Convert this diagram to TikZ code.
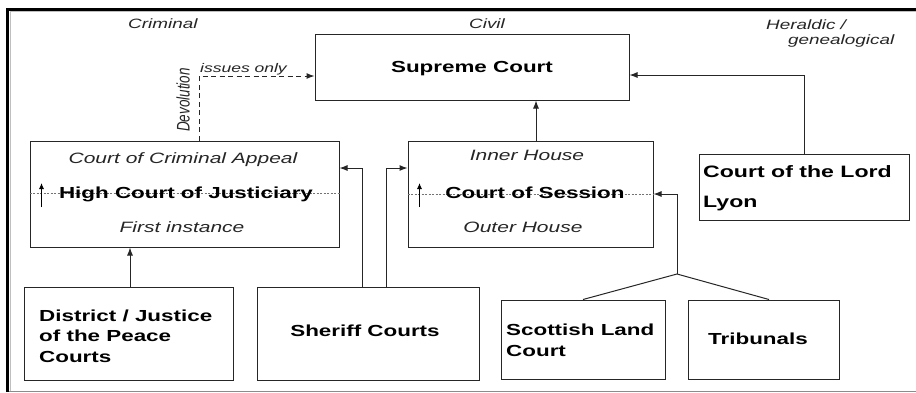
\documentclass[tikz,border=0pt]{standalone}
\usepackage{fontspec}
\setmainfont{Liberation Sans}[FakeStretch=1.4]
\usetikzlibrary{arrows.meta}
\begin{document}
\begin{tikzpicture}[x=1pt,y=-1pt,
  box/.style={draw=black!85,line width=1pt,rectangle,inner sep=0pt,fill=white},
  arr/.style={draw=black!85,line width=1pt,-{Latex[length=8pt,width=6pt]}},
  darr/.style={arr,dash pattern=on 5pt off 3.5pt},
  plain/.style={draw=black!85,line width=1pt},
  midline/.style={draw=black!55,line width=0.5pt,dash pattern=on 2pt off 1.5pt},
  small/.style={draw=black,line width=0.9pt,-{Latex[length=6pt,width=5pt]}},
  bold/.style={font=\bfseries\fontsize{16}{20.5}\selectfont,inner sep=0pt,anchor=base},
  ital/.style={font=\itshape\fontsize{15}{18}\selectfont,inner sep=0pt,anchor=base,text=black!85},
  lbl/.style={font=\itshape\fontsize{13.5}{16}\selectfont,inner sep=0pt,anchor=base west,text=black!85}
]
\useasboundingbox (0,0) rectangle (916,392);
\fill[white] (0,0) rectangle (916,392);
% frame
\draw[black!25,line width=1pt] (10.5,392) -- (10.5,11.5) -- (916,11.5);
\draw[black!45,line width=1pt] (6,391) -- (916,391);
\draw[black,line width=3pt] (7.5,392) -- (7.5,9.5) -- (916,9.5);

% top labels
\node[lbl] (crim) at (128,28) {Criminal};
\node[lbl] (civ) at (469,28) {Civil};
\node[lbl] (her) at (766,29) {Heraldic /};
\node[lbl] (gen) at (788,44) {genealogical};
\node[lbl,font=\itshape\fontsize{12.5}{15}\selectfont] (iss) at (200,72) {issues only};
\node[rotate=90,inner sep=0pt,text=black!85] (dev) at (183,100) {\scalebox{1}[1.35]{\addfontfeature{FakeStretch=1.0}\itshape\fontsize{13.5}{16}\selectfont Devolution}};

% boxes
\node[box,minimum width=314pt,minimum height=66pt] (sc) at (472,67) {};
\node[bold] (sct) at (472,72) {Supreme Court};

\node[box,minimum width=309pt,minimum height=106pt] (hcj) at (184.5,194) {};
\node[box,minimum width=245pt,minimum height=106pt] (cos) at (530.5,194) {};
\node[box,minimum width=210pt,minimum height=66pt] (ll) at (804,187) {};
\node[box,minimum width=209pt,minimum height=93pt] (dist) at (128.5,333.5) {};
\node[box,minimum width=222pt,minimum height=93pt] (sh) at (368,333.5) {};
\node[box,minimum width=164pt,minimum height=79pt] (slc) at (583,339.5) {};
\node[box,minimum width=151pt,minimum height=79pt] (trib) at (763.5,339.5) {};

% inner dashed lines
\draw[midline] ([yshift=1pt]hcj.west) -- ([yshift=1pt]hcj.east);
\draw[midline] (cos.west) -- (cos.east);

% texts in HCJ
\node[ital] (cca) at (183,163) {Court of Criminal Appeal};
\node[bold] (hcjt) at (186,198) {High Court of Justiciary};
\node[ital] (fi) at (182,232) {First instance};
% texts in CoS
\node[ital] (ih) at (527,160) {Inner House};
\node[bold] (cost) at (535,198) {Court of Session};
\node[ital] (oh) at (523,232) {Outer House};
% small up arrows
\draw[small] ([xshift=12pt,yshift=-13pt]hcj.west) -- ([xshift=12pt,yshift=11pt]hcj.west);
\draw[small] ([xshift=12pt,yshift=-13pt]cos.west) -- ([xshift=12pt,yshift=11pt]cos.west);

% other box texts (base anchor = last line's baseline)
\node[bold,anchor=base west,align=left,font=\bfseries\fontsize{16.5}{30}\selectfont] (llt) at (703,207) {Court of the Lord\\Lyon};
\node[bold,anchor=base west,align=left] (distt) at (39,362) {District / Justice\\of the Peace\\Courts};
\node[bold] (sht) at (365,336) {Sheriff Courts};
\node[bold,anchor=base west,align=left] (slct) at (506,356) {Scottish Land\\Court};
\node[bold] (tribt) at (758,344) {Tribunals};

% connectors
\draw[arr] (ll.north) |- ([yshift=-8pt]sc.east);
\draw[arr] ([xshift=5.5pt]cos.north) -- ([xshift=5.5pt]cos.north |- sc.south);
\draw[darr] ([xshift=14.5pt]hcj.north) |- ([yshift=-9pt]sc.west);
\draw[arr] ([xshift=1.5pt]dist.north) -- ([xshift=1.5pt]dist.north |- hcj.south);
\draw[arr] ([xshift=-6pt]sh.north) |- ([yshift=26pt]hcj.east);
\draw[arr] ([xshift=18pt]sh.north) |- ([yshift=26pt]cos.west);
\coordinate (br) at (677,274);
\draw[plain] (slc.north) -- (br) -- ([xshift=5.5pt]trib.north);
\draw[arr] (br) |- (cos.east);
\end{tikzpicture}
\end{document}
